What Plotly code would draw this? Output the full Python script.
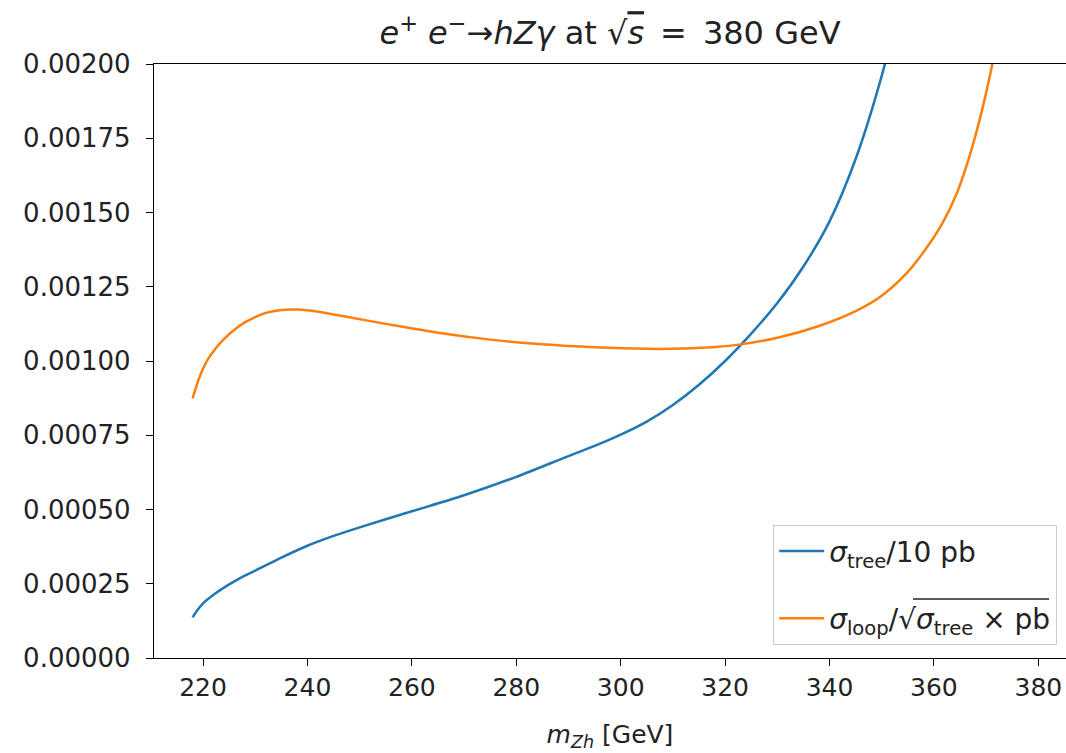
import plotly.graph_objects as go

# Tree-level cross section (scaled by 10 pb) versus the Zh invariant mass
m_zh_tree = [218, 219, 220, 222, 224, 226, 228, 230, 235, 240, 245, 250, 260,
             270, 280, 290, 295, 300, 305, 310, 315, 320, 325, 330, 335, 340,
             345, 350, 352]
sigma_tree_scaled = [0.000137, 0.000163, 0.000184, 0.000213, 0.000237, 0.000258,
                     0.000277, 0.000294, 0.000338, 0.000378, 0.000411, 0.000440,
                     0.000494, 0.000548, 0.000610, 0.000680, 0.000714, 0.000752,
                     0.000796, 0.000852, 0.000920, 0.001000, 0.001092, 0.001195,
                     0.001318, 0.001470, 0.001680, 0.001960, 0.002100]

# Loop-level cross section normalised by sqrt(sigma_tree x pb)
m_zh_loop = [218, 219, 220, 221, 222, 223, 224, 226, 228, 230, 232, 235, 238,
             242, 248, 255, 261, 267, 275, 285, 295, 305, 312, 318, 323, 330,
             338, 345, 350, 355, 358.7, 361.5, 364.4, 366.3, 368.2, 369.7,
             371.2, 372]
sigma_loop_ratio = [0.000874, 0.000930, 0.000975, 0.001008, 0.001033, 0.001055,
                    0.001074, 0.001105, 0.001130, 0.001148, 0.001162, 0.001172,
                    0.001173, 0.001166, 0.001147, 0.001125, 0.001107, 0.001090,
                    0.001072, 0.001056, 0.001046, 0.001041, 0.001042, 0.001047,
                    0.001056, 0.001078, 0.001118, 0.001168, 0.001220, 0.001300,
                    0.001384, 0.001460, 0.001565, 0.001660, 0.001775, 0.001880,
                    0.002000, 0.002070]

x_ticks = [220, 240, 260, 280, 300, 320, 340, 360, 380]
y_ticks = [0.0, 0.00025, 0.0005, 0.00075, 0.001, 0.00125, 0.0015, 0.00175, 0.002]

BLUE = "#1f77b4"
ORANGE = "#ff7f0e"
FONT = "DejaVu Sans"
TEXT = "#222222"

# pixel geometry of the axes box (used to place the legend overline)
L, T, B, W = 154, 64, 658, 912


def to_paper(px, py):
    return (px - L) / W, (B - py) / (B - T)


fig = go.Figure()
fig.add_trace(go.Scatter(
    x=m_zh_tree, y=sigma_tree_scaled, mode="lines",
    line=dict(color=BLUE, width=2.5, shape="spline", smoothing=0.8),
    name="<i>σ</i><sub>tree</sub>/10 pb", legendgroup="tree",
))
fig.add_trace(go.Scatter(
    x=m_zh_loop, y=sigma_loop_ratio, mode="lines",
    line=dict(color=ORANGE, width=2.5, shape="spline", smoothing=0.8),
    name="<i>σ</i><sub>loop</sub>/√<i>σ</i><sub>tree</sub> × pb",
    legendgroup="loop",
))

# overline of the square root in the second legend entry
x0, y0 = to_paper(913, 599)
x1, _ = to_paper(1049, 599)
fig.add_shape(type="line", xref="paper", yref="paper", x0=x0, x1=x1, y0=y0, y1=y0,
              line=dict(color=TEXT, width=1.6), layer="above")

fig.update_layout(
    width=1066, height=753,
    margin=dict(l=L, r=0, t=T, b=753 - B),
    paper_bgcolor="white", plot_bgcolor="white",
    font=dict(family=FONT, size=25, color=TEXT),
    showlegend=True,
    title=dict(
        text=("<i>e</i><sup>+</sup> <i>e</i><sup>−</sup>→<i>hZγ</i> at "
              "√<span style=\"text-decoration:overline\"><i>s</i></span>\u2002=\u2002380 GeV"),
        x=0.5, xanchor="center", xref="paper",
        y=1 - 33 / 753, yanchor="middle", yref="container",
        font=dict(family=FONT, size=32, color=TEXT),
    ),
    legend=dict(
        x=0.99, xanchor="right", y=0.022, yanchor="bottom",
        bgcolor="rgba(255,255,255,0)", bordercolor="#cccccc", borderwidth=1.3,
        font=dict(family=FONT, size=28, color=TEXT),
        tracegroupgap=28, itemwidth=45,
    ),
    xaxis=dict(
        range=[210.6, 385.3], tickvals=x_ticks,
        showgrid=False, zeroline=False,
        showline=True, linecolor="black", linewidth=1.3, mirror=True,
        ticks="outside", ticklen=7, tickwidth=1.3, tickcolor="black",
        tickfont=dict(family=FONT, size=25, color=TEXT),
        title=dict(text="<i>m</i><sub><i>Zh</i></sub> [GeV]",
                   font=dict(family=FONT, size=25, color=TEXT), standoff=24),
        automargin=False,
    ),
    yaxis=dict(
        range=[0, 0.002], tickvals=y_ticks, tickformat=".5f",
        showgrid=False, zeroline=False,
        showline=True, linecolor="black", linewidth=1.3, mirror=False,
        ticks="outside", ticklen=7, tickwidth=1.3, tickcolor="black",
        tickfont=dict(family=FONT, size=26, color=TEXT), ticklabelstandoff=10,
        automargin=False,
    ),
)

fig.write_html("out.html")
